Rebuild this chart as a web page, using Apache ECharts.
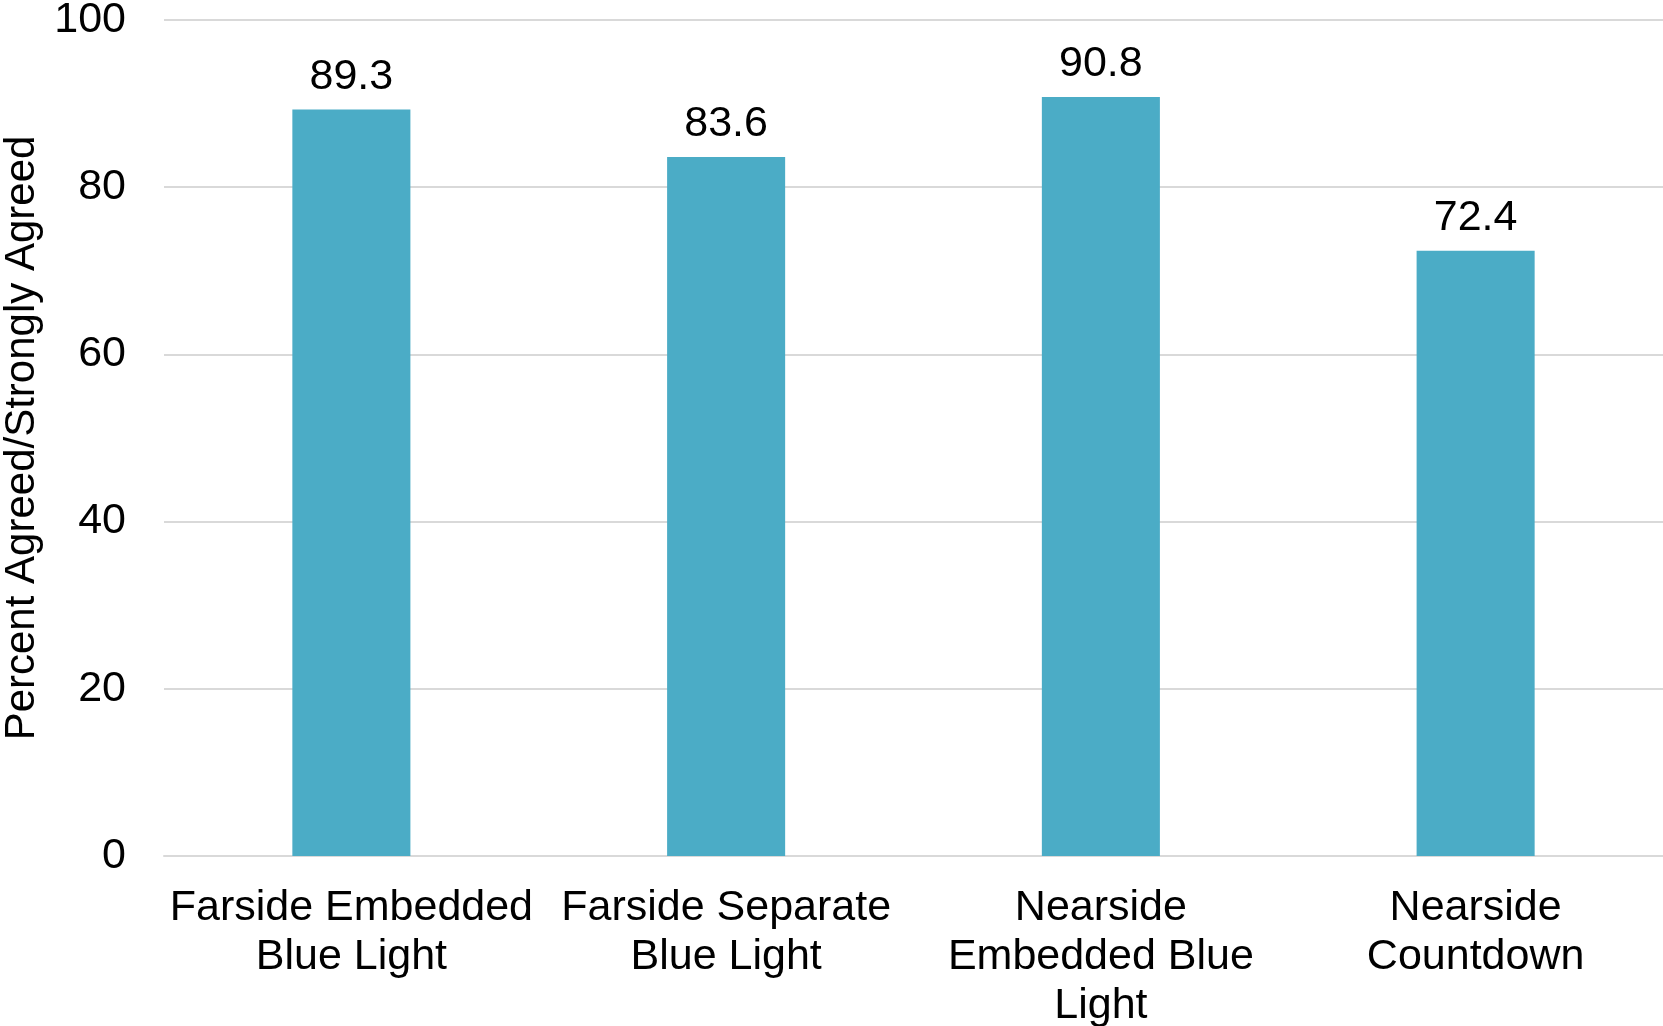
<!DOCTYPE html>
<html>
<head>
<meta charset="utf-8">
<style>
  html, body { margin: 0; padding: 0; background: #ffffff; }
  #chart { width: 1663px; height: 1026px; }
</style>
<script src="https://cdn.jsdelivr.net/npm/echarts@6/dist/echarts.min.js"></script>
</head>
<body>
<div id="chart"></div>
<script>
// Survey results: share of respondents who agreed or strongly agreed, per signal design
const categories = [
  'Farside Embedded\nBlue Light',
  'Farside Separate\nBlue Light',
  'Nearside\nEmbedded Blue\nLight',
  'Nearside\nCountdown'
];
const percentAgreed = [89.3, 83.6, 90.8, 72.4];
const yTicks = { min: 0, max: 100, interval: 20 };

const FONT = '"Liberation Sans", Arial, Helvetica, sans-serif';

const chart = echarts.init(document.getElementById('chart'), null, { renderer: 'canvas' });

chart.setOption({
  animation: false,
  backgroundColor: '#ffffff',
  grid: {
    left: 164, right: 0, top: 20, bottom: 170,
    containLabel: false,
    // keep the plot rectangle fixed even when the last label line runs off the bottom
    outerBoundsMode: 'none'
  },
  xAxis: {
    type: 'category',
    data: categories,
    axisLine: { show: true, lineStyle: { color: '#D9D9D9', width: 2 } },
    axisTick: { show: false },
    axisLabel: {
      interval: 0,
      color: '#000000',
      fontFamily: FONT,
      fontSize: 43,
      lineHeight: 49,
      margin: 28
    }
  },
  yAxis: {
    type: 'value',
    min: yTicks.min,
    max: yTicks.max,
    interval: yTicks.interval,
    name: 'Percent Agreed/Strongly Agreed',
    nameLocation: 'middle',
    nameGap: 113,
    nameTextStyle: { color: '#000000', fontFamily: FONT, fontSize: 42 },
    axisLine: { show: false },
    axisTick: { show: false },
    axisLabel: { color: '#000000', fontFamily: FONT, fontSize: 43, margin: 38 },
    splitLine: { show: true, lineStyle: { color: '#D9D9D9', width: 2 } }
  },
  series: [{
    type: 'bar',
    data: percentAgreed,
    barWidth: '31.5%',
    itemStyle: { color: '#4BACC6' },
    label: {
      show: true,
      position: 'top',
      distance: 11,
      color: '#000000',
      fontFamily: FONT,
      fontSize: 43,
      formatter: p => p.value.toFixed(1)
    }
  }]
});
</script>
</body>
</html>
